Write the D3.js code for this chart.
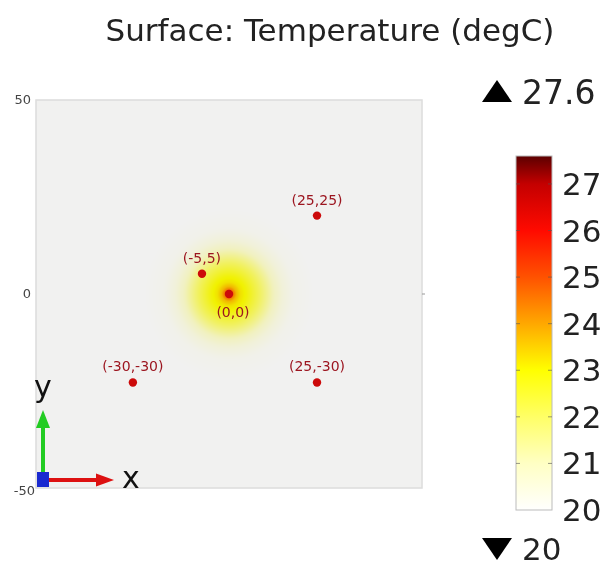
<!DOCTYPE html>
<html><head><meta charset="utf-8">
<script src="https://cdn.jsdelivr.net/npm/d3@7"></script>
<style>
html,body{margin:0;padding:0;background:#fff;width:608px;height:562px;overflow:hidden;}
#wrap{position:relative;width:608px;height:562px;}
canvas,svg{position:absolute;left:0;top:0;}
</style></head>
<body><div id="wrap"><canvas id="field" width="608" height="562"></canvas><svg id="chart" width="608" height="562"></svg></div>
<script>
// ---- data ----
const title = "Surface: Temperature (degC)";
const domainMin = -50, domainMax = 50;
const axisTicks = [50, 0, -50];
const pointX = [0, -7, 22.8, -24.9, 22.8];
const pointY = [0, 5.2, 20.2, -22.8, -22.8];
const pointLabels = ["(0,0)", "(-5,5)", "(25,25)", "(-30,-30)", "(25,-30)"];
// radial temperature profile around the source (distance in model units -> degC)
const profileDist = [0, 0.5, 1.2, 1.9, 3, 4.5, 6, 8, 10, 12, 14, 17, 22];
const profileTemp = [27.6, 25.5, 24.4, 23.7, 23.2, 22.9, 22.5, 22.0, 21.4, 20.8, 20.4, 20.1, 20.0];
const sourceX = 0, sourceY = 0;
const tMin = 20, tMax = 27.6;
const cbTicks = [20, 21, 22, 23, 24, 25, 26, 27];
const cmapVals = [20, 21, 22, 23, 24, 25, 26, 27, 27.6];
const cmapCols = ["#fffffe", "#ffffc4", "#ffff66", "#ffff00", "#ffa800", "#ff5200", "#ff0a00", "#c40000", "#5c0000"];

// ---- layout ----
const plot = {x0: 36, x1: 422, y0: 100, y1: 488};
const x = d3.scaleLinear().domain([domainMin, domainMax]).range([plot.x0, plot.x1]);
const y = d3.scaleLinear().domain([domainMin, domainMax]).range([plot.y1, plot.y0]);
const cmap = d3.scaleLinear().domain(cmapVals).range(cmapCols).clamp(true);
const profile = d3.scaleLinear().domain(profileDist).range(profileTemp).clamp(true);
const shade = 0.945;

// ---- field on canvas ----
const ctx = document.getElementById("field").getContext("2d");
const W = plot.x1 - plot.x0, H = plot.y1 - plot.y0;
const img = ctx.createImageData(W, H);
for (let j = 0; j < H; j++) {
  for (let i = 0; i < W; i++) {
    const dx = x.invert(plot.x0 + i + 0.5) - sourceX;
    const dy = y.invert(plot.y0 + j + 0.5) - sourceY;
    const t = profile(Math.sqrt(dx*dx + dy*dy));
    const c = d3.rgb(cmap(t));
    const k = (j*W + i)*4;
    img.data[k] = c.r*shade; img.data[k+1] = c.g*shade; img.data[k+2] = c.b*shade; img.data[k+3] = 255;
  }
}
ctx.putImageData(img, plot.x0, plot.y0);

const svg = d3.select("#chart");
const font = "DejaVu Sans, sans-serif";

// frame
svg.append("rect").attr("x", plot.x0).attr("y", plot.y0).attr("width", W).attr("height", H)
  .attr("fill", "none").attr("stroke", "#dcdcdc").attr("stroke-width", 1.5);
svg.append("line").attr("x1", plot.x1).attr("x2", plot.x1 + 3).attr("y1", y(0)).attr("y2", y(0)).attr("stroke", "#999");

// title
svg.append("text").attr("x", 330).attr("y", 41).attr("text-anchor", "middle")
  .attr("font-family", font).attr("font-size", 31).attr("fill", "#222").text(title);

// axis tick labels
svg.selectAll("text.tick").data(axisTicks).join("text").attr("class", "tick")
  .attr("x", d => d === -50 ? 35 : 31).attr("y", d => y(d) + (d === -50 ? 7 : 4))
  .attr("text-anchor", "end").attr("font-family", font).attr("font-size", 13).attr("fill", "#444")
  .text(d => d);

// points
const pts = pointX.map((v, i) => ({x: v, y: pointY[i], label: pointLabels[i]}));
svg.selectAll("circle.pt").data(pts).join("circle").attr("class", "pt")
  .attr("cx", d => x(d.x)).attr("cy", d => y(d.y)).attr("r", 4.2).attr("fill", "#cc0a0a");
svg.selectAll("text.pl").data(pts).join("text").attr("class", "pl")
  .attr("x", d => x(d.x) + (d.label === "(0,0)" ? 4 : 0))
  .attr("y", d => y(d.y) + (d.label === "(0,0)" ? 23 : -11))
  .attr("text-anchor", "middle").attr("font-family", font).attr("font-size", 14)
  .attr("fill", "#9c1620").text(d => d.label);

// axis triad
const ox = 43, oy = 480;
svg.append("line").attr("x1", ox).attr("x2", ox).attr("y1", oy).attr("y2", 428).attr("stroke", "#22cc22").attr("stroke-width", 4);
svg.append("path").attr("d", `M${ox-7},${428} L${ox+7},${428} L${ox},${410} Z`).attr("fill", "#22cc22");
svg.append("line").attr("x1", ox).attr("x2", 96).attr("y1", oy).attr("y2", oy).attr("stroke", "#dd1111").attr("stroke-width", 4);
svg.append("path").attr("d", `M96,${oy-6.5} L96,${oy+6.5} L114,${oy} Z`).attr("fill", "#dd1111");
svg.append("rect").attr("x", ox-6).attr("y", oy-8).attr("width", 12).attr("height", 15).attr("fill", "#1a2ad0");
svg.append("text").attr("x", ox).attr("y", 397).attr("text-anchor", "middle").attr("font-family", font).attr("font-size", 30).attr("fill", "#111").text("y");
svg.append("text").attr("x", 131).attr("y", 488).attr("text-anchor", "middle").attr("font-family", font).attr("font-size", 30).attr("fill", "#111").text("x");

// colorbar
const cb = {x0: 516, x1: 552};
const cy = d3.scaleLinear().domain([tMin, tMax]).range([510, 156]);
const grad = svg.append("defs").append("linearGradient").attr("id", "cbg")
  .attr("x1", 0).attr("y1", 1).attr("x2", 0).attr("y2", 0);
grad.selectAll("stop").data(cmapVals).join("stop")
  .attr("offset", d => (d - tMin)/(tMax - tMin)).attr("stop-color", (d, i) => cmapCols[i]);
svg.append("rect").attr("x", cb.x0).attr("y", cy(tMax)).attr("width", cb.x1 - cb.x0).attr("height", cy(tMin) - cy(tMax))
  .attr("fill", "url(#cbg)").attr("stroke", "#bbb").attr("stroke-width", 1);
cbTicks.slice(1).forEach(t => {
  svg.append("line").attr("x1", cb.x0).attr("x2", cb.x0 + 4).attr("y1", cy(t)).attr("y2", cy(t)).attr("stroke", "#555").attr("opacity", 0.6);
  svg.append("line").attr("x1", cb.x1 - 4).attr("x2", cb.x1).attr("y1", cy(t)).attr("y2", cy(t)).attr("stroke", "#555").attr("opacity", 0.6);
});
svg.selectAll("text.cbt").data(cbTicks).join("text").attr("class", "cbt")
  .attr("x", 562).attr("y", d => cy(d) + 11)
  .attr("font-family", font).attr("font-size", 31).attr("fill", "#222").text(d => d);

// max / min indicators
svg.append("path").attr("d", "M482,102 L512,102 L497,80 Z").attr("fill", "#000");
svg.append("text").attr("x", 522).attr("y", 104).attr("font-family", font).attr("font-size", 33).attr("fill", "#222").text(tMax);
svg.append("path").attr("d", "M482,538 L512,538 L497,560 Z").attr("fill", "#000");
svg.append("text").attr("x", 522).attr("y", 560).attr("font-family", font).attr("font-size", 31).attr("fill", "#222").text(tMin);
</script></body></html>
